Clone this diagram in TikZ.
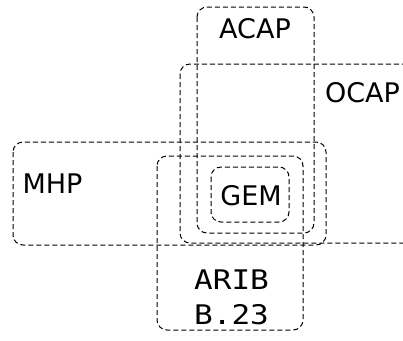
\documentclass[tikz,border=0pt]{standalone}
\usepackage{fontspec}
\newfontfamily\labfont{DejaVu Sans}
\newfontfamily\aribfont{DejaVu Sans Mono}[FakeStretch=1.15]
\begin{document}
\begin{tikzpicture}[x=1pt,y=-1pt,
  region/.style={draw=black, line width=1pt, dash pattern=on 5pt off 3pt, rounded corners=10pt},
  lbl/.style={font=\labfont\fontsize{27}{32}\selectfont, inner sep=0pt, anchor=base},
  albl/.style={font=\aribfont\fontsize{27}{32}\selectfont, inner sep=0pt, anchor=base}]
\useasboundingbox (0,0) rectangle (403,340);
\begin{scope}
\clip (0,0) rectangle (403,340);
\draw[region] (197,7) rectangle (314,233);   % ACAP
\draw[region] (180,64) rectangle (430,243);  % OCAP
\draw[region] (13,142) rectangle (326,245);  % MHP
\draw[region] (157,156) rectangle (303,330); % ARIB
\draw[region] (211,167) rectangle (289,222); % GEM
\end{scope}
\node[lbl] (acap) at (255,38) {ACAP};
\node[lbl] (ocap) at (362.5,102) {OCAP};
\node[lbl] (mhp) at (52.5,193) {MHP};
\node[lbl] (gem) at (251,205) {GEM};
\node[albl] (arib) at (231.5,289) {ARIB};
\node[albl] (b23) at (231.5,324) {B.23};
\end{tikzpicture}
\end{document}
